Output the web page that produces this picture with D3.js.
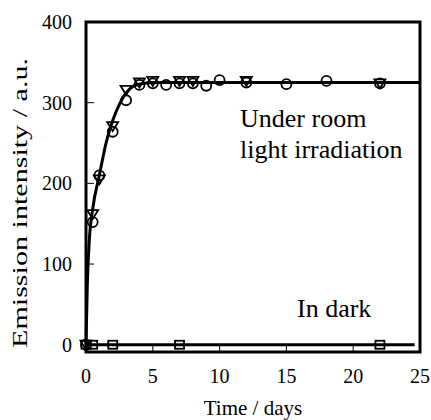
<!DOCTYPE html>
<html>
<head>
<meta charset="utf-8">
<script src="https://cdn.jsdelivr.net/npm/d3@7"></script>
<style>
  body { margin: 0; background: #fff; }
  text { font-family: "Liberation Serif", "Times New Roman", serif; fill: #000; }
</style>
</head>
<body>
<div id="chart"></div>
<script>
// Emission intensity vs time, under room light and in dark

const FRAME_WIDTH = 431;
const FRAME_HEIGHT = 420;
const MARGINS = {left: 86, right: 11, top: 22, bottom: 68};
const VIS_WIDTH = FRAME_WIDTH - MARGINS.left - MARGINS.right;
const VIS_HEIGHT = FRAME_HEIGHT - MARGINS.top - MARGINS.bottom;

// data
const circleDays = [0, 0.5, 1, 2, 3, 4, 5, 6, 7, 8, 9, 10, 12, 15, 18, 22];
const circleVals = [0, 152, 210, 264, 303, 322, 324, 322, 324, 324, 321, 328, 325, 323, 327, 324];

const triDays = [0, 0.5, 1, 2, 3, 4, 5, 7, 8, 12, 22];
const triVals = [0, 162, 205, 271, 316, 325, 327, 327, 327, 327, 324];

const darkDays = [0, 0.5, 2, 7, 22];
const darkVals = [0, 0, 0, 0, 0];

const fitDays = [0, 0.1, 0.25, 0.5, 1, 1.5, 2, 2.5, 3, 3.5, 4, 5, 25];
const fitVals = [0, 75, 130, 168, 210, 250, 278, 298, 312, 320, 323, 325, 325];

const darkLineDays = [0, 24.6];
const darkLineVals = [0, 0];

const xTicks = [0, 5, 10, 15, 20, 25];
const yTicks = [0, 100, 200, 300, 400];

const FRAME = d3.select("#chart")
  .append("svg")
    .attr("width", FRAME_WIDTH)
    .attr("height", FRAME_HEIGHT);

const xScale = d3.scaleLinear().domain([0, 25]).range([0, VIS_WIDTH]);
const yScale = d3.scaleLinear().domain([-9, 400]).range([VIS_HEIGHT, 0]);

const g = FRAME.append("g")
  .attr("transform", "translate(" + MARGINS.left + "," + MARGINS.top + ")");

// inner ticks
g.selectAll(".xtick")
  .data(xTicks)
  .enter()
  .append("line")
    .attr("x1", d => xScale(d)).attr("x2", d => xScale(d))
    .attr("y1", VIS_HEIGHT).attr("y2", VIS_HEIGHT - 8)
    .attr("stroke", "#000").attr("stroke-width", 1);

g.selectAll(".ytick")
  .data(yTicks)
  .enter()
  .append("line")
    .attr("x1", 0).attr("x2", 8)
    .attr("y1", d => yScale(d)).attr("y2", d => yScale(d))
    .attr("stroke", "#000").attr("stroke-width", 1);

// tick labels
g.selectAll(".xlab")
  .data(xTicks)
  .enter()
  .append("text")
    .attr("x", d => xScale(d))
    .attr("y", VIS_HEIGHT + 31)
    .attr("text-anchor", "middle")
    .attr("font-size", "20px")
    .text(d => d);

g.selectAll(".ylab")
  .data(yTicks)
  .enter()
  .append("text")
    .attr("x", -14)
    .attr("y", d => yScale(d) + 7)
    .attr("text-anchor", "end")
    .attr("font-size", "20px")
    .text(d => d);

// lines
const line = d3.line()
  .x(d => xScale(d[0]))
  .y(d => yScale(d[1]));

g.append("path")
  .datum(darkLineDays.map((d, i) => [d, darkLineVals[i]]))
  .attr("d", line)
  .attr("fill", "none")
  .attr("stroke", "#000")
  .attr("stroke-width", 3);

g.append("path")
  .datum(fitDays.map((d, i) => [d, fitVals[i]]))
  .attr("d", line.curve(d3.curveMonotoneX))
  .attr("fill", "none")
  .attr("stroke", "#000")
  .attr("stroke-width", 3);

// markers
g.selectAll(".circ")
  .data(circleDays.map((d, i) => [d, circleVals[i]]))
  .enter()
  .append("circle")
    .attr("cx", d => xScale(d[0]))
    .attr("cy", d => yScale(d[1]))
    .attr("r", 5)
    .attr("fill", "none")
    .attr("stroke", "#000")
    .attr("stroke-width", 1.8);

g.selectAll(".tri")
  .data(triDays.map((d, i) => [d, triVals[i]]))
  .enter()
  .append("path")
    .attr("d", d => {
      const x = xScale(d[0]), y = yScale(d[1]);
      return "M" + (x - 5.5) + "," + (y - 4) + "L" + (x + 5.5) + "," + (y - 4) + "L" + x + "," + (y + 5) + "Z";
    })
    .attr("fill", "none")
    .attr("stroke", "#000")
    .attr("stroke-width", 1.8);

g.selectAll(".sq")
  .data(darkDays.map((d, i) => [d, darkVals[i]]))
  .enter()
  .append("rect")
    .attr("x", d => xScale(d[0]) - 4.5)
    .attr("y", d => yScale(d[1]) - 4)
    .attr("width", 9)
    .attr("height", 8)
    .attr("fill", "none")
    .attr("stroke", "#000")
    .attr("stroke-width", 1.8);

// frame
g.append("rect")
  .attr("x", 0).attr("y", 0)
  .attr("width", VIS_WIDTH).attr("height", VIS_HEIGHT)
  .attr("fill", "none")
  .attr("stroke", "#000")
  .attr("stroke-width", 3);

// annotations
g.append("text")
  .attr("x", 154).attr("y", 105)
  .attr("font-size", "26px")
  .text("Under room");

g.append("text")
  .attr("x", 154).attr("y", 136)
  .attr("font-size", "26px")
  .text("light irradiation");

g.append("text")
  .attr("x", 211).attr("y", 295)
  .attr("font-size", "26px")
  .text("In dark");

// axis titles
FRAME.append("text")
  .attr("x", MARGINS.left + VIS_WIDTH / 2)
  .attr("y", 415)
  .attr("text-anchor", "middle")
  .attr("font-size", "21px")
  .text("Time / days");

FRAME.append("text")
  .attr("transform", "translate(27,203) rotate(-90)")
  .attr("text-anchor", "middle")
  .attr("font-size", "21px")
  .attr("textLength", 290)
  .attr("lengthAdjust", "spacingAndGlyphs")
  .text("Emission intensity / a.u.");
</script>
</body>
</html>
